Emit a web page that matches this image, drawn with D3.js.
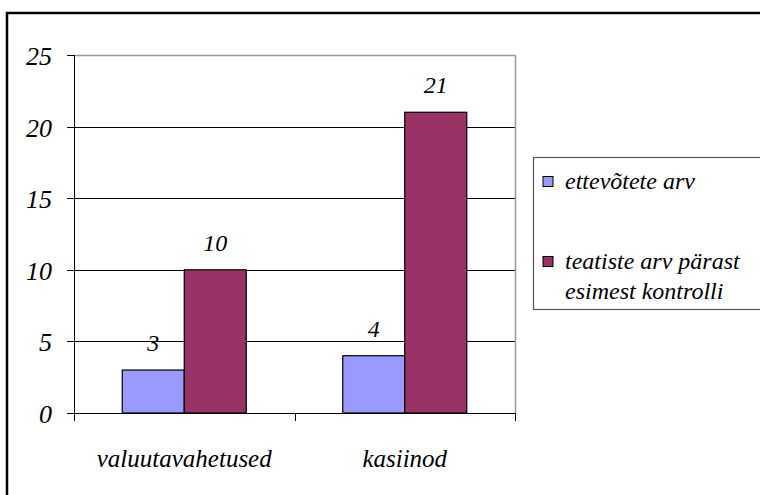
<!DOCTYPE html>
<html><head><meta charset="utf-8">
<script src="https://cdn.jsdelivr.net/npm/d3@7"></script>
</head><body style="margin:0"><svg id="c" width="760" height="495" style="display:block"></svg>
<script>
const categories = ["valuutavahetused", "kasiinod"];
const seriesNames = ["ettevõtete arv", "teatiste arv pärast esimest kontrolli"];
const seriesA = [3, 4];
const seriesB = [10, 21];
const yTicks = [0, 5, 10, 15, 20, 25];
const colors = ["#9999FF", "#993366"];

const FONT = "Liberation Serif";
const svg = d3.select("#c");
const L = 74, R = 515, T = 55, B = 413;
const y = d3.scaleLinear().domain([0, 25]).range([B, T]);
const x0 = d3.scaleBand().domain(categories).range([L, R]).padding(0);
const x1 = d3.scaleBand().domain([0, 1]).range([0, 124]).padding(0);
const groupOff = (x0.bandwidth() - 124) / 2;

function addText(parent, size) {
  return parent.append("text").attr("font-family", FONT).attr("font-style", "italic").attr("font-size", size);
}

// outer frame
svg.append("rect").attr("x", 7).attr("y", 13).attr("width", 770).attr("height", 500)
  .attr("fill", "none").attr("stroke", "#000").attr("stroke-width", 2.5);

// gridlines
svg.append("g").selectAll("line").data(yTicks.filter(t => t > 0 && t < 25)).join("line")
  .attr("x1", L).attr("x2", R).attr("y1", d => Math.round(y(d)) + 0.5).attr("y2", d => Math.round(y(d)) + 0.5)
  .attr("stroke", "#000").attr("stroke-width", 1);
svg.append("path").attr("d", `M${L},${T + 0.5}H${R + 0.5}V${B}`).attr("fill", "none").attr("stroke", "#999").attr("stroke-width", 1.5);

// bars and value labels
const data = categories.map((c, i) => ({ c, v: [seriesA[i], seriesB[i]] }));
const g = svg.append("g");
data.forEach(d => {
  d.v.forEach((v, s) => {
    const bx = x0(d.c) + groupOff + x1(s);
    g.append("rect").attr("x", bx).attr("y", y(v)).attr("width", x1.bandwidth()).attr("height", y(0) - y(v))
      .attr("fill", colors[s]).attr("stroke", "#000").attr("stroke-width", 1.2);
    addText(g, 24).attr("x", bx + x1.bandwidth() / 2).attr("y", y(v) - 19)
      .attr("text-anchor", "middle").text(v);
  });
});

// y axis drawn from the scale
const ya = svg.append("g");
ya.append("line").attr("x1", L + 0.5).attr("x2", L + 0.5).attr("y1", T).attr("y2", B).attr("stroke", "#000");
yTicks.forEach(t => {
  const yy = Math.round(y(t)) + 0.5;
  ya.append("line").attr("x1", L - 7).attr("x2", L).attr("y1", yy).attr("y2", yy).attr("stroke", "#000");
  addText(ya, 26).attr("x", L - 22).attr("y", yy + 9).attr("text-anchor", "end").text(t);
});

// x axis
const xa = svg.append("g");
xa.append("line").attr("x1", L - 7).attr("x2", R).attr("y1", B + 0.5).attr("y2", B + 0.5).attr("stroke", "#000");
[L, x0(categories[1]), R].forEach(xx => {
  xa.append("line").attr("x1", Math.round(xx) + 0.5).attr("x2", Math.round(xx) + 0.5).attr("y1", B).attr("y2", B + 8).attr("stroke", "#000");
});
categories.forEach(c => {
  addText(xa, 25).attr("x", x0(c) + x0.bandwidth() / 2).attr("y", B + 54).attr("text-anchor", "middle").text(c);
});

// legend
const lg = svg.append("g");
lg.append("rect").attr("x", 533.5).attr("y", 157.5).attr("width", 260).attr("height", 152)
  .attr("fill", "#fff").attr("stroke", "#555").attr("stroke-width", 1.2);
const legendLines = [["ettevõtete arv"], ["teatiste arv pärast", "esimest kontrolli"]];
const legY = [189, 269];
legendLines.forEach((lines, i) => {
  lg.append("rect").attr("x", 543).attr("y", legY[i] - 12.5).attr("width", 10).attr("height", 10)
    .attr("fill", colors[i]).attr("stroke", "#000").attr("stroke-width", 1);
  lines.forEach((t, j) => {
    addText(lg, 24).attr("x", 565).attr("y", legY[i] + j * 30).text(t);
  });
});
</script></body></html>
